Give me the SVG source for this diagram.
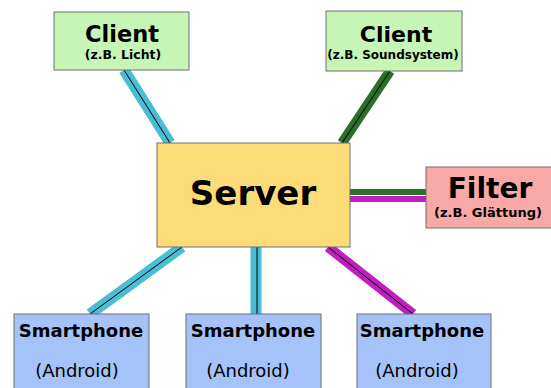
<svg xmlns="http://www.w3.org/2000/svg" width="551" height="388" viewBox="0 0 551 388">
  <style>
    .box { stroke: #6f6f6f; stroke-width: 1; }
    .client { fill: #c7f5b5; }
    .server { fill: #fddb76; }
    .filter { fill: #f8a8a6; }
    .phone { fill: #a5c3f8; }
    text { font-family: "DejaVu Sans", sans-serif; fill: #000; text-anchor: middle; }
    .b { font-weight: bold; }
    .cyan { stroke: #48bdd3; stroke-width: 11; fill: none; }
    .green { stroke: #2b6f2b; stroke-width: 10; fill: none; }
    .magenta { stroke: #c01fc0; stroke-width: 10; fill: none; }
    .core { stroke: #000; stroke-width: 1; fill: none; }
  </style>

  <!-- connectors -->
  <g id="connectors">
    <line class="cyan" x1="124" y1="70" x2="170" y2="143"/>
    <line class="core" x1="124" y1="70" x2="170" y2="143"/>

    <line class="green" x1="390" y1="71" x2="342" y2="143"/>
    <line class="core" x1="390" y1="71" x2="342" y2="143"/>

    <line x1="350" y1="192" x2="426" y2="192" stroke="#2b6f2b" stroke-width="6"/>
    <line x1="350" y1="199" x2="426" y2="199" stroke="#c01fc0" stroke-width="6"/>

    <line class="cyan" x1="182" y1="247" x2="90" y2="314"/>
    <line class="core" x1="182" y1="247" x2="90" y2="314"/>

    <line class="cyan" x1="256" y1="247" x2="256" y2="314"/>
    <line class="core" x1="257" y1="247" x2="257" y2="314"/>

    <line class="magenta" x1="328" y1="247" x2="413" y2="314"/>
    <line class="core" x1="328" y1="247" x2="413" y2="314"/>
  </g>

  <g id="server">
    <rect class="box server" x="157" y="143" width="193" height="104"/>
    <text class="b" x="253" y="205" font-size="34">Server</text>
  </g>

  <g id="client-licht">
    <rect class="box client" x="54" y="12" width="135" height="58"/>
    <text class="b" x="122" y="42" font-size="22.5">Client</text>
    <text class="b" x="123" y="59" font-size="12.5">(z.B. Licht)</text>
  </g>

  <g id="client-sound">
    <rect class="box client" x="326" y="11" width="136" height="60"/>
    <text class="b" x="396" y="42" font-size="22">Client</text>
    <text class="b" x="393" y="59" font-size="12">(z.B. Soundsystem)</text>
  </g>

  <g id="filter">
    <rect class="box filter" x="426" y="167" width="130" height="61"/>
    <text class="b" x="490" y="198" font-size="28">Filter</text>
    <text class="b" x="488" y="217" font-size="13">(z.B. Glättung)</text>
  </g>

  <g id="phone1">
    <rect class="box phone" x="14" y="314" width="135" height="90"/>
    <text class="b" x="81" y="337" font-size="18">Smartphone</text>
    <text x="77" y="377" font-size="18">(Android)</text>
  </g>

  <g id="phone2">
    <rect class="box phone" x="186" y="314" width="135" height="90"/>
    <text class="b" x="253" y="337" font-size="18">Smartphone</text>
    <text x="248" y="377" font-size="18">(Android)</text>
  </g>

  <g id="phone3">
    <rect class="box phone" x="357" y="314" width="134" height="90"/>
    <text class="b" x="422" y="337" font-size="18">Smartphone</text>
    <text x="417" y="377" font-size="18">(Android)</text>
  </g>
</svg>
